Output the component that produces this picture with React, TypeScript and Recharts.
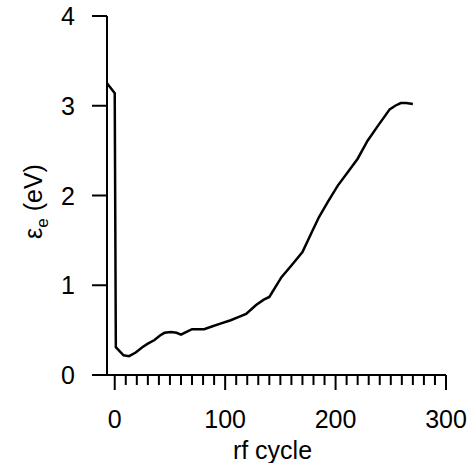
import { LineChart, Line, XAxis, YAxis } from 'recharts';

// rf cycle vs electron energy (eV)
const cycles = [
  -7, 0, 1, 8, 13, 19, 25, 30, 36, 41, 45, 51, 56, 60, 65, 70, 81, 88, 95, 105,
  113, 119, 128, 135, 140, 151, 160, 170, 178, 185, 193, 202, 211, 220, 229,
  238, 249, 254, 259, 264, 270,
];
const energy = [
  3.25, 3.14, 0.31, 0.22, 0.21, 0.25, 0.31, 0.35, 0.39, 0.44, 0.47, 0.48, 0.47,
  0.45, 0.48, 0.51, 0.51, 0.54, 0.57, 0.61, 0.65, 0.68, 0.78, 0.84, 0.87, 1.09,
  1.22, 1.37, 1.58, 1.76, 1.93, 2.11, 2.26, 2.41, 2.61, 2.77, 2.96, 3.0, 3.03,
  3.03, 3.02,
];

const xMajor = [0, 100, 200, 300];
const xTicks = Array.from({ length: 31 }, (_, i) => i * 10);
const yTicks = [0, 1, 2, 3, 4];

const data = cycles.map((c, i) => ({ cycle: c, e: energy[i] }));

const font = '"Liberation Sans", Arial, sans-serif';

function XTick({ x, y, payload }: any) {
  const major = xMajor.includes(payload.value);
  return (
    <g>
      <line x1={x} y1={y} x2={x} y2={y + (major ? 15 : 10)} stroke="#000" strokeWidth={2} />
      {major && (
        <text x={x} y={y + 53} textAnchor="middle" fontSize={25} fontFamily={font} fill="#000">
          {payload.value}
        </text>
      )}
    </g>
  );
}

function YTick({ x, y, payload }: any) {
  return (
    <g>
      <line x1={x - 15} y1={y} x2={x} y2={y} stroke="#000" strokeWidth={2} />
      <text x={x - 32} y={y + 9} textAnchor="end" fontSize={25} fontFamily={font} fill="#000">
        {payload.value}
      </text>
    </g>
  );
}

export default function App() {
  return (
    <div style={{ position: 'absolute', left: 0, top: 0, background: '#fff' }}>
      <LineChart
        width={474}
        height={463}
        data={data}
        margin={{ top: 16, right: 28, bottom: 0, left: 0 }}
      >
        <XAxis
          dataKey="cycle"
          type="number"
          domain={[-7, 300]}
          ticks={xTicks}
          interval={0}
          tick={<XTick />}
          tickSize={0}
          tickMargin={0}
          tickLine={false}
          axisLine={{ stroke: '#000', strokeWidth: 2 }}
          height={88}
          allowDataOverflow
          label={({ viewBox }: any) => (
            <text
              x={viewBox.x + viewBox.width / 2 - 4}
              y={viewBox.y + 84}
              textAnchor="middle"
              fontSize={25}
              fontFamily={font}
              fill="#000"
            >
              rf cycle
            </text>
          )}
        />
        <YAxis
          type="number"
          domain={[0, 4]}
          ticks={yTicks}
          interval={0}
          tick={<YTick />}
          tickSize={0}
          tickMargin={0}
          tickLine={false}
          axisLine={{ stroke: '#000', strokeWidth: 2 }}
          width={107}
          label={({ viewBox }: any) => {
            const cx = 42;
            const cy = viewBox.y + viewBox.height / 2 + 6;
            return (
              <text
                x={cx}
                y={cy}
                transform={`rotate(-90 ${cx} ${cy})`}
                textAnchor="middle"
                fontSize={25}
                fontFamily={font}
                fill="#000"
              >
                <tspan>ε</tspan>
                <tspan fontSize={17} dy={6}>e</tspan>
                <tspan dy={-6}> (eV)</tspan>
              </text>
            );
          }}
        />
        <Line
          type="linear"
          dataKey="e"
          stroke="#000"
          strokeWidth={2.5}
          dot={false}
          isAnimationActive={false}
        />
      </LineChart>
    </div>
  );
}
